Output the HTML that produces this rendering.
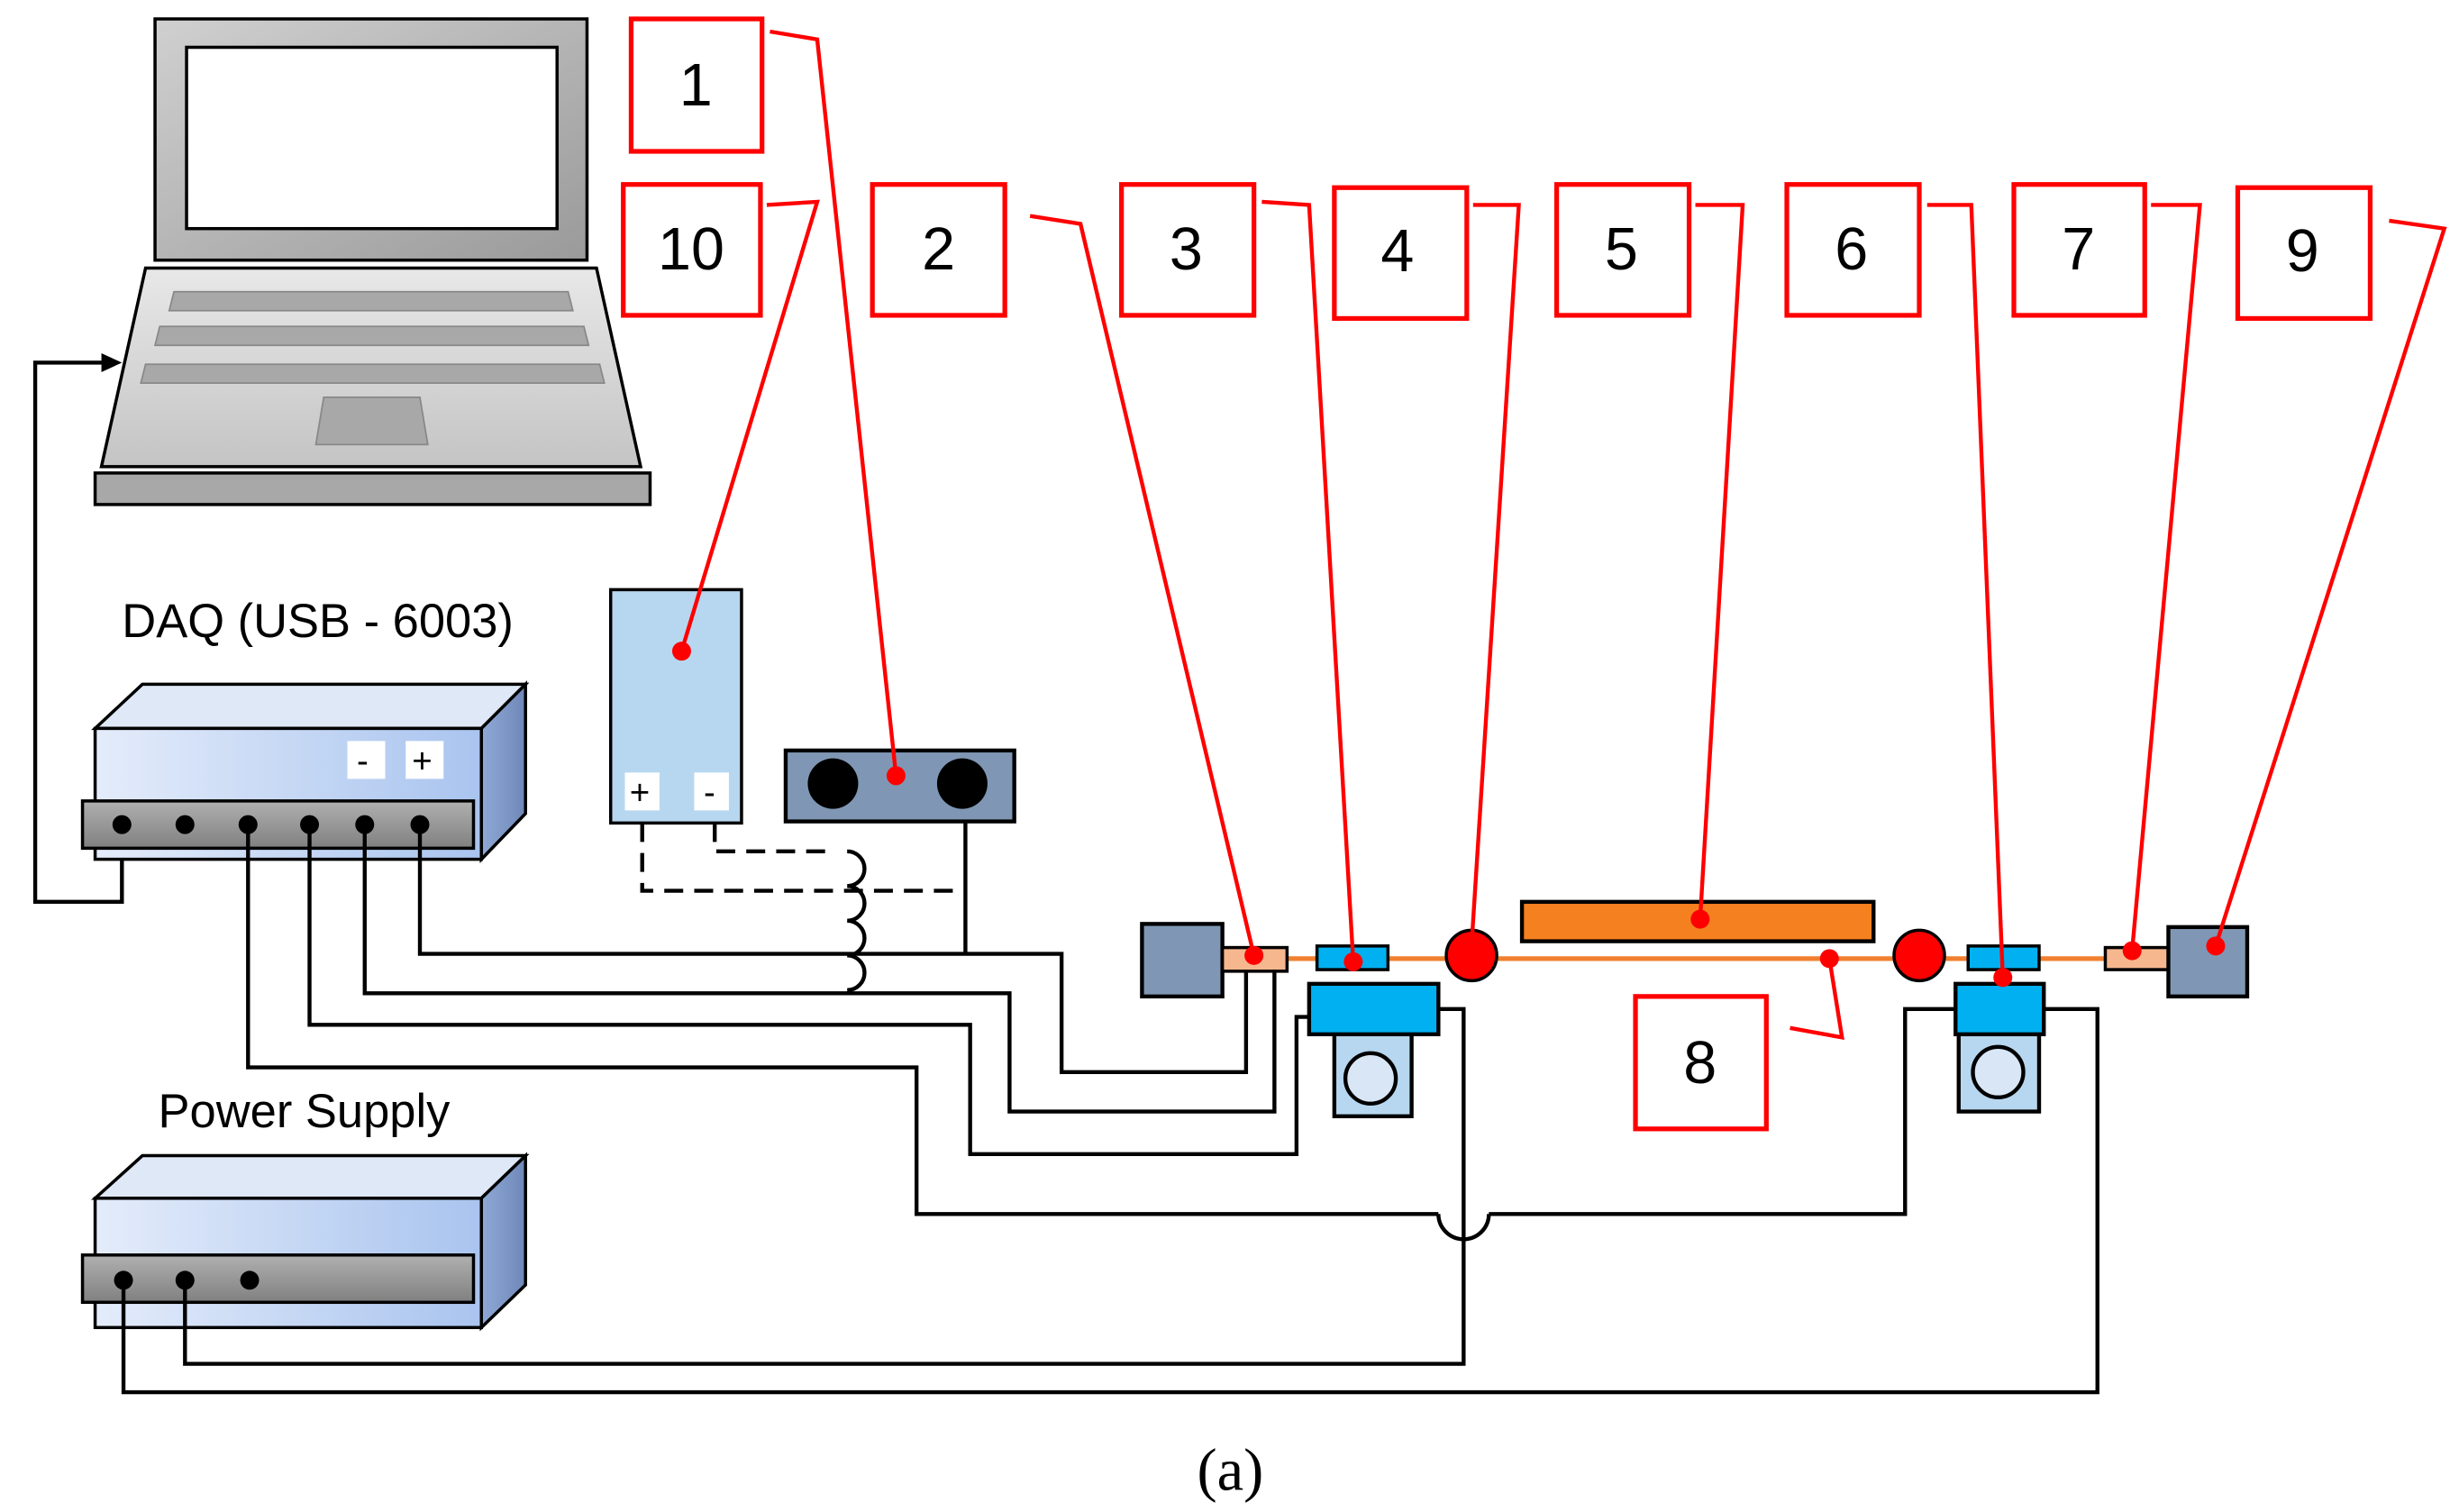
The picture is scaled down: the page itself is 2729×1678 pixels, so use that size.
<!DOCTYPE html>
<html><head><meta charset="utf-8"><style>
html,body{margin:0;padding:0;background:#fff;}
svg{display:block;}
text{font-family:"Liberation Sans",sans-serif;}
</style></head><body>
<svg width="2729" height="1678" viewBox="0 0 1559 959" xmlns="http://www.w3.org/2000/svg">
<defs>
<linearGradient id="scr" x1="0" y1="0" x2="1" y2="1"><stop offset="0" stop-color="#d0d0d0"/><stop offset="1" stop-color="#9a9a9a"/></linearGradient>
<linearGradient id="base" x1="0" y1="0" x2="0" y2="1"><stop offset="0" stop-color="#e8e8e8"/><stop offset="1" stop-color="#c4c4c4"/></linearGradient>
<linearGradient id="box" x1="0" y1="0" x2="1" y2="0"><stop offset="0" stop-color="#e4ecfa"/><stop offset="1" stop-color="#a9c4ef"/></linearGradient>
<linearGradient id="boxs" x1="0" y1="0" x2="1" y2="0"><stop offset="0" stop-color="#8fa9d6"/><stop offset="1" stop-color="#6f88b8"/></linearGradient>
<linearGradient id="strip" x1="0" y1="0" x2="0" y2="1"><stop offset="0" stop-color="#b0b0b0"/><stop offset="1" stop-color="#808080"/></linearGradient>
</defs>

<!-- Laptop -->
<rect x="98" y="12" width="274" height="153" fill="url(#scr)" stroke="#000" stroke-width="2"/>
<rect x="118" y="30" width="235" height="115" fill="#fff" stroke="#000" stroke-width="2"/>
<polygon points="92,170 378,170 406,296 64,296" fill="url(#base)" stroke="#000" stroke-width="2"/>
<polygon points="110,185 360,185 363,197 107,197" fill="#a8a8a8" stroke="#888"/>
<polygon points="101,207 370,207 373,219 98,219" fill="#a8a8a8" stroke="#888"/>
<polygon points="92,231 380,231 383,243 89,243" fill="#a8a8a8" stroke="#888"/>
<polygon points="205,252 266,252 271,282 200,282" fill="#a8a8a8" stroke="#888"/>
<rect x="60" y="300" width="352" height="20" fill="#a8a8a8" stroke="#000" stroke-width="2"/>

<!-- arrow to laptop -->
<polyline points="77,523 77,572 22,572 22,230 68,230" fill="none" stroke="#000" stroke-width="2.5"/>
<polygon points="77,230 64,224 64,236" fill="#000"/>

<!-- DAQ -->
<text x="77" y="404" font-size="30">DAQ (USB - 6003)</text>
<polygon points="60,462 90,434 333,434 305,462" fill="#dfe8f7" stroke="#000" stroke-width="2"/>
<polygon points="305,462 333,434 333,516 305,545" fill="url(#boxs)" stroke="#000" stroke-width="2"/>
<rect x="60" y="462" width="245" height="83" fill="url(#box)" stroke="#000" stroke-width="2"/>
<rect x="52" y="508" width="248" height="30" fill="url(#strip)" stroke="#000" stroke-width="2"/>
<rect x="220" y="470" width="24" height="24" fill="#fff"/><text x="226" y="490" font-size="22">-</text>
<rect x="257" y="470" width="24" height="24" fill="#fff"/><text x="261" y="490" font-size="22">+</text>
<g fill="#000"><circle cx="77" cy="523" r="6"/><circle cx="117" cy="523" r="6"/><circle cx="157" cy="523" r="6"/><circle cx="196" cy="523" r="6"/><circle cx="231" cy="523" r="6"/><circle cx="266" cy="523" r="6"/></g>

<!-- Power supply -->
<text x="100" y="715" font-size="30">Power Supply</text>
<polygon points="60,760 90,733 333,733 305,760" fill="#dfe8f7" stroke="#000" stroke-width="2"/>
<polygon points="305,760 333,733 333,815 305,842" fill="url(#boxs)" stroke="#000" stroke-width="2"/>
<rect x="60" y="760" width="245" height="82" fill="url(#box)" stroke="#000" stroke-width="2"/>
<rect x="52" y="796" width="248" height="30" fill="url(#strip)" stroke="#000" stroke-width="2"/>
<g fill="#000"><circle cx="78" cy="812" r="6"/><circle cx="117" cy="812" r="6"/><circle cx="158" cy="812" r="6"/></g>

<!-- Battery (10) -->
<rect x="387" y="374" width="83" height="148" fill="#b7d7f0" stroke="#000" stroke-width="2"/>
<rect x="396" y="490" width="22" height="24" fill="#fff"/><text x="399" y="510" font-size="22">+</text>
<rect x="440" y="490" width="22" height="24" fill="#fff"/><text x="446" y="510" font-size="22">-</text>

<!-- Component 1 -->
<rect x="498" y="476" width="145" height="45" fill="#7f97b4" stroke="#000" stroke-width="2.5"/>
<circle cx="528" cy="497" r="16" fill="#000"/><circle cx="610" cy="497" r="16" fill="#000"/>

<!-- dashed wires -->
<g fill="none" stroke="#000" stroke-width="2.5" stroke-dasharray="12,7">
<polyline points="407,522 407,565 612,565"/>
<polyline points="453,522 453,540 530,540"/>
</g>
<line x1="612" y1="521" x2="612" y2="605" stroke="#000" stroke-width="2.5"/>
<path d="M537,540 a10,10 0 0 1 0,22 a10,10 0 0 1 0,22 a10,10 0 0 1 0,22 a10,10 0 0 1 0,22" fill="none" stroke="#000" stroke-width="2.5"/>

<!-- wires -->
<g fill="none" stroke="#000" stroke-width="2.5">
<polyline points="266,523 266,605 673,605 673,680 790,680 790,615"/>
<polyline points="231,523 231,630 640,630 640,705 808,705 808,615"/>
<polyline points="196,523 196,650 615,650 615,732 822,732 822,645 832,645"/>
<polyline points="157,523 157,677 581,677 581,770 912,770"/>
<path d="M912,770 a16,16 0 0 0 32,0"/>
<polyline points="944,770 1208,770 1208,640 1240,640"/>
<polyline points="117,812 117,865 928,865 928,640 912,640"/>
<polyline points="78,812 78,883 1330,883 1330,640 1296,640"/>
</g>

<!-- pipe -->
<line x1="775" y1="608" x2="1340" y2="608" stroke="#f08030" stroke-width="3"/>
<rect x="724" y="586" width="51" height="46" fill="#7f97b4" stroke="#000" stroke-width="2.5"/>
<rect x="775" y="601" width="41" height="15" fill="#f6b78e" stroke="#000" stroke-width="2"/>
<rect x="835" y="600" width="45" height="15" fill="#00b0f0" stroke="#000" stroke-width="2"/>
<rect x="846" y="656" width="49" height="52" fill="#b7d7f0" stroke="#000" stroke-width="2.5"/>
<circle cx="869" cy="684" r="16" fill="#d8e6f6" stroke="#000" stroke-width="2.5"/>
<rect x="830" y="624" width="82" height="32" fill="#00b0f0" stroke="#000" stroke-width="2.5"/>
<circle cx="933" cy="606" r="16" fill="#f00" stroke="#000" stroke-width="2"/>
<circle cx="1217" cy="606" r="16" fill="#f00" stroke="#000" stroke-width="2"/>
<rect x="965" y="572" width="223" height="25" fill="#f58020" stroke="#000" stroke-width="2.5"/>
<rect x="1248" y="600" width="45" height="15" fill="#00b0f0" stroke="#000" stroke-width="2"/>
<rect x="1242" y="656" width="51" height="49" fill="#b7d7f0" stroke="#000" stroke-width="2.5"/>
<circle cx="1267" cy="680" r="16" fill="#d8e6f6" stroke="#000" stroke-width="2.5"/>
<rect x="1240" y="624" width="56" height="32" fill="#00b0f0" stroke="#000" stroke-width="2.5"/>
<rect x="1335" y="601" width="40" height="14" fill="#f6b78e" stroke="#000" stroke-width="2"/>
<rect x="1375" y="588" width="50" height="44" fill="#7f97b4" stroke="#000" stroke-width="2.5"/>

<!-- labels -->
<g fill="#fff" stroke="#f00" stroke-width="3">
<rect x="400" y="12" width="83" height="84"/>
<rect x="395" y="117" width="87" height="83"/>
<rect x="553" y="117" width="84" height="83"/>
<rect x="711" y="117" width="84" height="83"/>
<rect x="846" y="119" width="84" height="83"/>
<rect x="987" y="117" width="84" height="83"/>
<rect x="1133" y="117" width="84" height="83"/>
<rect x="1277" y="117" width="83" height="83"/>
<rect x="1419" y="119" width="84" height="83"/>
<rect x="1037" y="632" width="83" height="84"/>
</g>
<g fill="none" stroke="#f00" stroke-width="2.5">
<polyline points="488,20 518,25 568,492"/>
<polyline points="486,130 518,128 432,413"/>
<polyline points="653,137 685,142 795,606"/>
<polyline points="800,128 830,130 858,610"/>
<polyline points="934,130 963,130 933,600"/>
<polyline points="1075,130 1105,130 1078,583"/>
<polyline points="1222,130 1250,130 1270,620"/>
<polyline points="1364,130 1395,130 1352,603"/>
<polyline points="1515,140 1550,145 1405,600"/>
<polyline points="1135,652 1168,658 1160,608"/>
</g>
<g fill="#f00">
<circle cx="568" cy="492" r="6"/><circle cx="432" cy="413" r="6"/><circle cx="795" cy="606" r="6"/>
<circle cx="858" cy="610" r="6"/><circle cx="1078" cy="583" r="6"/><circle cx="1270" cy="620" r="6"/>
<circle cx="1352" cy="603" r="6"/><circle cx="1405" cy="600" r="6"/><circle cx="1160" cy="608" r="6"/>
</g>
<g font-size="38" text-anchor="middle" fill="#000">
<text x="441" y="67">1</text>
<text x="438" y="171">10</text>
<text x="595" y="171">2</text>
<text x="752" y="171">3</text>
<text x="886" y="172">4</text>
<text x="1028" y="171">5</text>
<text x="1174" y="171">6</text>
<text x="1318" y="171">7</text>
<text x="1460" y="172">9</text>
<text x="1078" y="687">8</text>
</g>
<text x="780" y="945" font-size="38" text-anchor="middle" style="font-family:'Liberation Serif',serif">(a)</text>
</svg>
</body></html>
